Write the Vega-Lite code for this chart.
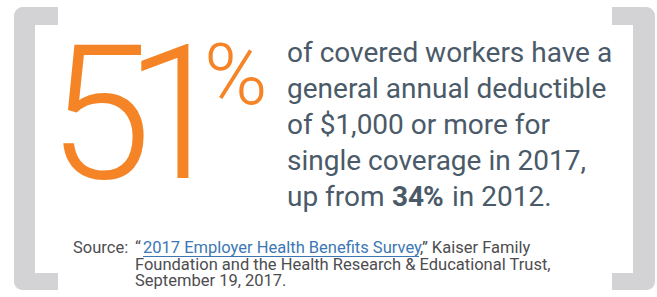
{
  "$schema": "https://vega.github.io/schema/vega-lite/v6.json",
  "autosize": {"type": "fit", "contains": "padding"},
  "width": 657,
  "height": 297,
  "padding": 0,
  "background": "white",
  "config": {"view": {"stroke": null}, "text": {"font": "Roboto"}},
  "datasets": {
    "headline": [{"share": 51, "unit": "%", "prior": 34}],
    "lines": [
      {"line": 1, "text": "of covered workers have a"},
      {"line": 2, "text": "general annual deductible"},
      {"line": 3, "text": "of $1,000 or more for"},
      {"line": 4, "text": "single coverage in 2017,"},
      {"line": 5, "text": "up from"}
    ],
    "source": [
      {"line": 1, "piece": "label", "text": "Source:"},
      {"line": 1, "piece": "open", "text": "“"},
      {"line": 1, "piece": "link", "text": "2017 Employer Health Benefits Survey"},
      {"line": 1, "piece": "close", "text": ",” Kaiser Family"},
      {"line": 2, "piece": "body", "text": "Foundation and the Health Research & Educational Trust,"},
      {"line": 3, "piece": "body", "text": "September 19, 2017."}
    ]
  },
  "resolve": {"scale": {"x": "independent", "y": "independent"}},
  "layer": [
    {
      "data": {"values": [{"side": "left"}]},
      "layer": [
        {"mark": {"type": "rect", "color": "#D3D3D5", "cornerRadiusTopLeft": 14, "cornerRadiusBottomLeft": 14},
         "encoding": {"x": {"value": 14}, "x2": {"value": 35}, "y": {"value": 7}, "y2": {"value": 290}}},
        {"mark": {"type": "rect", "color": "#D3D3D5", "cornerRadiusTopLeft": 14},
         "encoding": {"x": {"value": 14}, "x2": {"value": 58}, "y": {"value": 7}, "y2": {"value": 25}}},
        {"mark": {"type": "rect", "color": "#D3D3D5", "cornerRadiusBottomLeft": 14},
         "encoding": {"x": {"value": 14}, "x2": {"value": 58}, "y": {"value": 273}, "y2": {"value": 290}}},
        {"mark": {"type": "rect", "color": "#D3D3D5", "cornerRadiusTopRight": 14, "cornerRadiusBottomRight": 14},
         "encoding": {"x": {"value": 633}, "x2": {"value": 655}, "y": {"value": 7}, "y2": {"value": 290}}},
        {"mark": {"type": "rect", "color": "#D3D3D5", "cornerRadiusTopRight": 14},
         "encoding": {"x": {"value": 612}, "x2": {"value": 655}, "y": {"value": 7}, "y2": {"value": 25}}},
        {"mark": {"type": "rect", "color": "#D3D3D5", "cornerRadiusBottomRight": 14},
         "encoding": {"x": {"value": 612}, "x2": {"value": 655}, "y": {"value": 273}, "y2": {"value": 290}}}
      ]
    },
    {
      "data": {"name": "headline"},
      "transform": [
        {"calculate": "floor(datum.share / 10)", "as": "tens"},
        {"calculate": "datum.share % 10", "as": "ones"}
      ],
      "layer": [
        {"mark": {"type": "text", "align": "left", "baseline": "alphabetic", "fontSize": 187, "fontWeight": 300, "color": "#F58426"},
         "encoding": {"text": {"field": "tens", "type": "quantitative"}, "x": {"value": 48}, "y": {"value": 178}}},
        {"mark": {"type": "text", "align": "left", "baseline": "alphabetic", "fontSize": 187, "fontWeight": 300, "color": "#F58426"},
         "encoding": {"text": {"field": "ones", "type": "quantitative"}, "x": {"value": 125}, "y": {"value": 178}}},
        {"mark": {"type": "text", "align": "left", "baseline": "alphabetic", "fontSize": 86, "fontWeight": 300, "color": "#F58426"},
         "encoding": {"text": {"field": "unit", "type": "nominal"}, "x": {"value": 204}, "y": {"value": 104}}},
        {"mark": {"type": "text", "align": "left", "baseline": "alphabetic", "fontSize": 28, "fontWeight": "bold", "color": "#4A5A69"},
         "encoding": {"text": {"field": "prior", "type": "quantitative", "format": "d"}, "x": {"value": 392}, "y": {"value": 206}}},
        {"mark": {"type": "text", "align": "left", "baseline": "alphabetic", "fontSize": 28, "fontWeight": "bold", "color": "#4A5A69", "dx": 31},
         "encoding": {"text": {"field": "unit", "type": "nominal"}, "x": {"value": 392}, "y": {"value": 206}}},
        {"mark": {"type": "text", "align": "left", "baseline": "alphabetic", "fontSize": 28, "color": "#4A5A69", "text": "in 2012."},
         "encoding": {"x": {"value": 452}, "y": {"value": 206}}}
      ]
    },
    {
      "data": {"name": "lines"},
      "mark": {"type": "text", "align": "left", "baseline": "alphabetic", "fontSize": 28, "color": "#4A5A69"},
      "encoding": {
        "text": {"field": "text", "type": "nominal"},
        "x": {"value": 287},
        "y": {"field": "line", "type": "ordinal", "axis": null, "scale": {"type": "point", "range": [62, 206], "padding": 0}}
      }
    },
    {
      "data": {"name": "source"},
      "encoding": {
        "text": {"field": "text", "type": "nominal"},
        "y": {"field": "line", "type": "ordinal", "axis": null, "scale": {"type": "point", "domain": [1, 2, 3], "range": [253, 286], "padding": 0}}
      },
      "layer": [
        {"transform": [{"filter": "datum.piece == 'body' || datum.piece == 'open'"}],
         "mark": {"type": "text", "align": "left", "baseline": "alphabetic", "fontSize": 16.5, "color": "#4D4D4F"},
         "encoding": {"x": {"value": 135}}},
        {"transform": [{"filter": "datum.piece == 'label'"}],
         "mark": {"type": "text", "align": "left", "baseline": "alphabetic", "fontSize": 16.5, "color": "#4D4D4F"},
         "encoding": {"x": {"value": 73}}},
        {"transform": [{"filter": "datum.piece == 'link'"}],
         "mark": {"type": "text", "align": "left", "baseline": "alphabetic", "fontSize": 16.5, "color": "#3C77B4"},
         "encoding": {"x": {"value": 143}}},
        {"transform": [{"filter": "datum.piece == 'close'"}],
         "mark": {"type": "text", "align": "left", "baseline": "alphabetic", "fontSize": 16.5, "color": "#4D4D4F"},
         "encoding": {"x": {"value": 420}}},
        {"transform": [{"filter": "datum.piece == 'link'"}],
         "mark": {"type": "rule", "color": "#3C77B4", "strokeWidth": 1},
         "encoding": {"x": {"value": 143}, "x2": {"value": 419}, "y": {"value": 256.5}}}
      ]
    }
  ]
}
